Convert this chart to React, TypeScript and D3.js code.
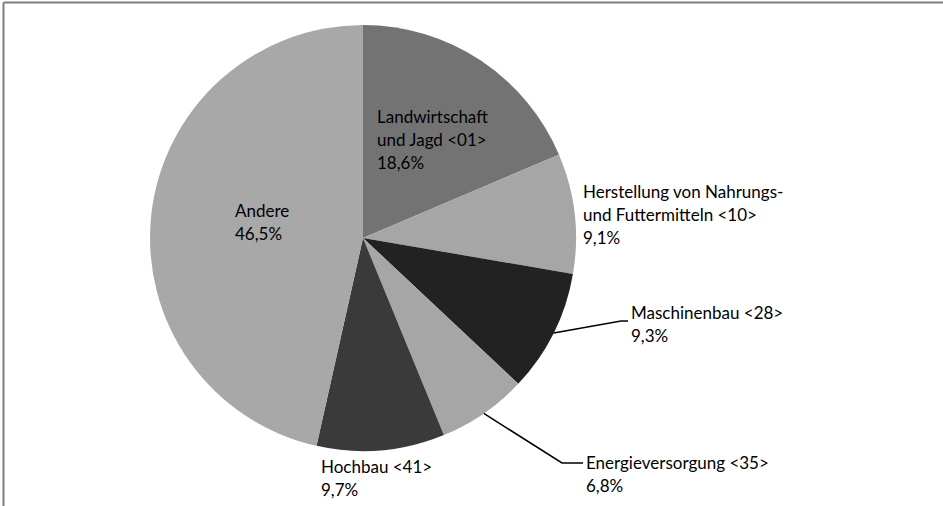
import React from "react";
import * as d3 from "d3";

const categories = [
  "Landwirtschaft und Jagd <01>",
  "Herstellung von Nahrungs- und Futtermitteln <10>",
  "Maschinenbau <28>",
  "Energieversorgung <35>",
  "Hochbau <41>",
  "Andere",
];
const values = [18.6, 9.1, 9.3, 6.8, 9.7, 46.5];
const labelLines = [
  ["Landwirtschaft", "und Jagd <01>"],
  ["Herstellung von Nahrungs-", "und Futtermitteln <10>"],
  ["Maschinenbau <28>"],
  ["Energieversorgung <35>"],
  ["Hochbau <41>"],
  ["Andere"],
];
const colors = ["#737373", "#a6a6a6", "#222222", "#a6a6a6", "#3a3a3a", "#a8a8a8"];

// layout: label text anchor (x, first baseline) and whether a leader line is drawn
const labelPos: { x: number; y: number; leader?: { ex: number; ey: number } }[] = [
  { x: 377, y: 123 },
  { x: 583, y: 198 },
  { x: 631, y: 319, leader: { ex: 621, ey: 321 } },
  { x: 586, y: 469, leader: { ex: 562, ey: 463 } },
  { x: 321, y: 473 },
  { x: 235, y: 217 },
];

const W = 943;
const H = 506;
const cx = 363;
const cy = 238;
const R = 213;
const LH = 23;

export default function App() {
  const pie = d3.pie<number>().sort(null).value((d) => d)(values);
  const arc = d3.arc<d3.PieArcDatum<number>>().innerRadius(0).outerRadius(R);
  const fmt = (v: number) => v.toFixed(1).replace(".", ",") + "%";
  return (
    <svg
      width={W}
      height={H}
      style={{ position: "absolute", left: 0, top: 0, background: "#fff" }}
      fontFamily="Lato, 'Open Sans', sans-serif"
      fontSize={17}
    >
      <line x1={3.5} y1={2.5} x2={W} y2={2.5} stroke="#7f7f7f" strokeWidth={2} />
      <line x1={3.5} y1={2.5} x2={3.5} y2={H} stroke="#7f7f7f" strokeWidth={2} />
      <g transform={`translate(${cx},${cy})`}>
        {pie.map((p, i) => (
          <path key={categories[i]} d={arc(p) || ""} fill={colors[i]} />
        ))}
      </g>
      {pie.map((p, i) => {
        const lp = labelPos[i];
        if (!lp.leader) return null;
        const mid = (p.startAngle + p.endAngle) / 2;
        const sx = cx + R * Math.sin(mid);
        const sy = cy - R * Math.cos(mid);
        return (
          <polyline
            key={"l" + i}
            points={`${sx},${sy} ${lp.leader.ex},${lp.leader.ey} ${lp.x - 3},${lp.leader.ey}`}
            fill="none"
            stroke="#000"
            strokeWidth={1.5}
          />
        );
      })}
      {pie.map((p, i) => {
        const lp = labelPos[i];
        const lines = [...labelLines[i], fmt(values[i])];
        return (
          <text key={"t" + i} x={lp.x} y={lp.y} fill="#000">
            {lines.map((t, j) => (
              <tspan key={j} x={lp.x} y={lp.y + j * LH}>
                {t}
              </tspan>
            ))}
          </text>
        );
      })}
    </svg>
  );
}
